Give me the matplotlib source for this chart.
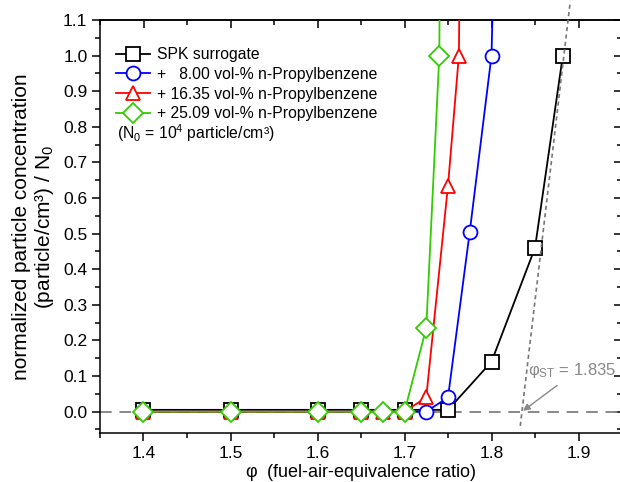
import matplotlib
matplotlib.use("Agg")
import matplotlib.pyplot as plt
from matplotlib.ticker import MultipleLocator

plt.rcParams['font.family'] = ['Liberation Sans', 'DejaVu Sans']

# Data
phi_spk = [1.40, 1.50, 1.60, 1.65, 1.70, 1.75, 1.80, 1.85, 1.882]
val_spk = [0.005, 0.005, 0.005, 0.005, 0.005, 0.005, 0.14, 0.46, 1.0]

phi_8 = [1.40, 1.50, 1.60, 1.65, 1.675, 1.70, 1.725, 1.75, 1.775, 1.80, 1.825]
val_8 = [0.0, 0.0, 0.0, 0.0, 0.0, 0.0, 0.0, 0.04, 0.505, 1.0, 3.5]

phi_16 = [1.40, 1.50, 1.60, 1.65, 1.675, 1.70, 1.725, 1.75, 1.7625, 1.775]
val_16 = [0.0, 0.0, 0.0, 0.0, 0.0, 0.0, 0.04, 0.635, 1.0, 4.0]

phi_25 = [1.40, 1.50, 1.60, 1.65, 1.675, 1.70, 1.725, 1.74, 1.76]
val_25 = [0.0, 0.0, 0.0, 0.0, 0.0, 0.0, 0.235, 1.0, 8.0]

labels = ["SPK surrogate",
          "+   8.00 vol-% n-Propylbenzene",
          "+ 16.35 vol-% n-Propylbenzene",
          "+ 25.09 vol-% n-Propylbenzene"]

phi_st = 1.835
tangent_slope = 20.75
tangent_y = [-0.04, 1.145]

fig = plt.figure(figsize=(6.2, 4.82), dpi=100)
ax = fig.add_axes([100/620, 1-433/482, 522/620, 413/482])

ax.axhline(0, color='#888888', lw=1.4, dashes=(6, 4), zorder=1)

ms = 9.5
lw = 1.3
ax.plot(phi_spk, val_spk, color='black', marker='s', ms=ms, mfc='white', mew=1.3, lw=lw, label=labels[0], zorder=3)
ax.plot(phi_8, val_8, color='#0000ff', marker='o', ms=ms+0.5, mfc='white', mew=1.3, lw=lw, label=labels[1], zorder=4)
ax.plot(phi_16, val_16, color='#ff0000', marker='^', ms=ms+1, mfc='white', mew=1.3, lw=lw, label=labels[2], zorder=5)
ax.plot(phi_25, val_25, color='#33cc00', marker='D', ms=ms+0.5, mfc='white', mew=1.3, lw=lw, label=labels[3], zorder=6)

tx = [phi_st + y / tangent_slope for y in tangent_y]
ax.plot(tx, tangent_y, color='#777777', lw=1.2, dashes=(2.5, 2), zorder=7, clip_on=False)

ax.annotate(r"$\mathregular{\varphi_{ST}}$ = 1.835", xy=(phi_st, 0.0), xytext=(1.842, 0.115),
            color='#888888', fontsize=12, ha='left', va='center',
            arrowprops=dict(arrowstyle='-|>', color='#888888', lw=1.0, shrinkA=3, shrinkB=1,
                            mutation_scale=10,
                            relpos=(0.41, 0.0)), zorder=8)

ax.set_xlim(1.35, 1.95)
ax.set_ylim(-0.06, 1.1)
ax.xaxis.set_minor_locator(MultipleLocator(0.05))
ax.yaxis.set_major_locator(MultipleLocator(0.1))
ax.yaxis.set_minor_locator(MultipleLocator(0.05))
ax.set_xticks([1.4, 1.5, 1.6, 1.7, 1.8, 1.9])
ax.set_xticklabels(["1.4", "1.5", "1.6", "1.7", "1.8", "1.9"])
ax.yaxis.set_major_formatter(matplotlib.ticker.FormatStrFormatter('%.1f'))

ax.tick_params(which='both', direction='out', top=False, right=False, labelsize=12.5, width=1.1)
ax.tick_params(which='major', length=6, pad=3)
ax.tick_params(which='minor', length=3.5)
for s in ax.spines.values():
    s.set_linewidth(1.1)

sec_x = ax.secondary_xaxis('top')
sec_x.xaxis.set_major_locator(MultipleLocator(0.1))
sec_x.xaxis.set_minor_locator(MultipleLocator(0.05))
sec_x.tick_params(which='both', direction='in', labeltop=False, width=1.1)
sec_x.tick_params(which='major', length=6)
sec_x.tick_params(which='minor', length=3.5)
sec_x.spines['top'].set_linewidth(1.1)
sec_y = ax.secondary_yaxis('right')
sec_y.yaxis.set_major_locator(MultipleLocator(0.1))
sec_y.yaxis.set_minor_locator(MultipleLocator(0.05))
sec_y.tick_params(which='both', direction='in', labelright=False, width=1.1)
sec_y.tick_params(which='major', length=6)
sec_y.tick_params(which='minor', length=3.5)

ax.set_xlabel(r"$\mathregular{\varphi}$  (fuel-air-equivalence ratio)", fontsize=13, labelpad=1)
ax.set_ylabel("normalized particle concentration\n(particle/cm³) / N$_\\mathregular{0}$", fontsize=15,
              labelpad=5, linespacing=1.1)

leg = ax.legend(loc='upper left', bbox_to_anchor=(0.012, 0.957), frameon=False, fontsize=11.3,
                handlelength=2.2, handletextpad=0.45, labelspacing=0.3, borderaxespad=0.2)
ax.text(0.033, 0.727, "(N$_\\mathregular{0}$ = 10$^\\mathregular{4}$ particle/cm³)", transform=ax.transAxes,
        fontsize=11.3, va='center', ha='left')

fig.savefig("out.png", dpi=100)
